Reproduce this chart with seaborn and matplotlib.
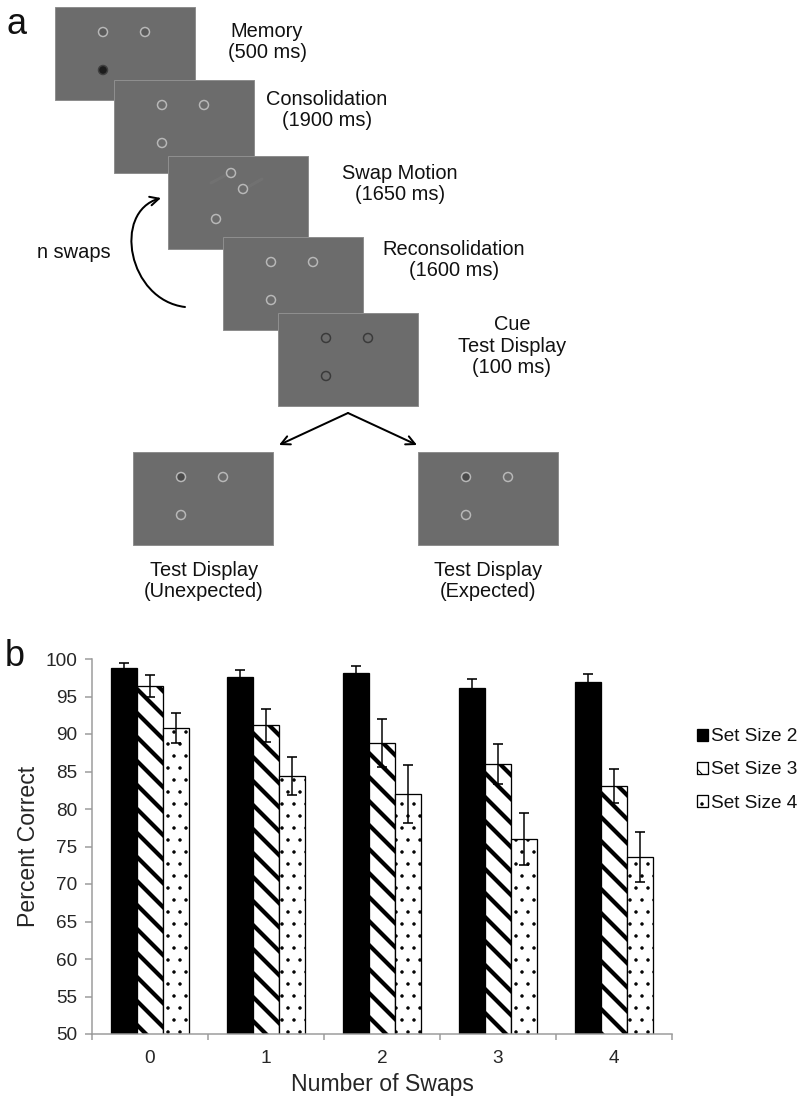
import numpy as np
import pandas as pd
import seaborn as sns
import matplotlib.pyplot as plt
from matplotlib.patches import Rectangle, Circle, FancyArrowPatch
from matplotlib.path import Path

# panel b data
swaps = ['0', '1', '2', '3', '4']
set_sizes = ['Set Size 2', 'Set Size 3', 'Set Size 4']
pct_set2 = [98.8, 97.6, 98.1, 96.1, 96.9]
pct_set3 = [96.4, 91.2, 88.8, 86.0, 83.1]
pct_set4 = [90.8, 84.4, 82.0, 76.0, 73.6]
err_set2 = [0.7, 0.9, 1.0, 1.2, 1.1]
err_set3 = [1.5, 2.2, 3.2, 2.7, 2.3]
err_set4 = [2.0, 2.6, 3.9, 3.5, 3.3]

sns.set_style('ticks')
plt.rcParams['font.family'] = ['Liberation Sans', 'DejaVu Sans']
plt.rcParams['text.color'] = '#111111'
plt.rcParams['hatch.linewidth'] = 1.0

# dpi 72 -> 1 pt == 1 px
fig = plt.figure(figsize=(811 / 72, 1104 / 72), dpi=72)

# ---------------- panel a (schematic) ----------------
ax_a = fig.add_axes([0, 0, 1, 1])
ax_a.set_xlim(0, 811)
ax_a.set_ylim(1104, 0)
ax_a.axis('off')

scr_w, scr_h = 140, 93
scr_gray = '#6c6c6c'
light = '#b8b8b8'
std_pos = [(48, 25), (90, 25), (48, 63)]


def screen(x, y, z):
    ax_a.add_patch(Rectangle((x, y), scr_w, scr_h, facecolor=scr_gray,
                             edgecolor='#8e8e8e', lw=1, zorder=z))


def ring(x, y, z, edge=light, fill=scr_gray):
    ax_a.add_patch(Circle((x, y), 4.5, facecolor=fill, edgecolor=edge,
                          lw=1.5, zorder=z + 0.5))


# memory
screen(55, 7, 1)
ring(55 + 48, 7 + 25, 1, fill='#5a5a5a')
ring(55 + 90, 7 + 25, 1, fill='#5a5a5a')
ring(55 + 48, 7 + 63, 1, edge='#404040', fill='#1c1c1c')
# consolidation
screen(114, 80, 2)
for dx, dy in std_pos:
    ring(114 + dx, 80 + dy, 2)
# swap motion (faint motion trails)
screen(168, 156, 3)
ax_a.plot([211, 226], [183, 175], color='#7a7a7a', lw=3, alpha=0.4, zorder=3.2)
ax_a.plot([248, 262], [187, 179], color='#7a7a7a', lw=3, alpha=0.4, zorder=3.2)
for dx, dy in [(63, 17), (75, 33), (48, 63)]:
    ring(168 + dx, 156 + dy, 3)
# reconsolidation
screen(223, 237, 4)
for dx, dy in std_pos:
    ring(223 + dx, 237 + dy, 4)
# cue
screen(278, 313, 5)
for dx, dy in std_pos:
    ring(278 + dx, 313 + dy, 5, edge='#3a3a3a')
# two test displays
for sx in (133, 418):
    screen(sx, 452, 6)
    ring(sx + 48, 452 + 25, 6, fill='#4a4a4a')
    ring(sx + 90, 452 + 25, 6)
    ring(sx + 48, 452 + 63, 6)

txt = dict(fontsize=20, ha='center', va='center', linespacing=1.15, zorder=10)
ax_a.text(267, 42, 'Memory\n(500 ms)', **txt)
ax_a.text(327, 110, 'Consolidation\n(1900 ms)', **txt)
ax_a.text(400, 184, 'Swap Motion\n(1650 ms)', **txt)
ax_a.text(454, 260, 'Reconsolidation\n(1600 ms)', **txt)
ax_a.text(512, 346, 'Cue\nTest Display\n(100 ms)', **txt)
ax_a.text(204, 581, 'Test Display\n(Unexpected)', **txt)
ax_a.text(488, 581, 'Test Display\n(Expected)', **txt)
ax_a.text(74, 252, 'n swaps', **txt)

# curved "n swaps" arrow
loop = Path([(185, 307), (128, 300), (112, 212), (161, 198)],
            [Path.MOVETO, Path.CURVE4, Path.CURVE4, Path.CURVE4])
ax_a.add_patch(FancyArrowPatch(path=loop, arrowstyle='->', mutation_scale=22,
                               lw=2, color='black', zorder=10))
for end in [(279, 445), (417, 445)]:
    ax_a.add_patch(FancyArrowPatch((348, 413), end, arrowstyle='->',
                                   mutation_scale=22, lw=2, color='black',
                                   shrinkA=0, shrinkB=0, zorder=10))

ax_a.text(17, 24, 'a', fontsize=36, ha='center', va='center')
ax_a.text(15, 657, 'b', fontsize=36, ha='center', va='center')

# ---------------- panel b (bars) ----------------
ax_b = fig.add_axes([92 / 811, 70 / 1104, 580 / 811, 375 / 1104])

df = pd.DataFrame({
    'swaps': swaps * 3,
    'set': np.repeat(set_sizes, len(swaps)),
    'pct': pct_set2 + pct_set3 + pct_set4,
})
sns.barplot(data=df, x='swaps', y='pct', hue='set',
            palette=['black', 'white', 'white'], saturation=1, width=0.67,
            edgecolor='black', linewidth=1.3, errorbar=None, legend=False, ax=ax_b)

bar_conts = list(ax_b.containers)
for cont, h, hlw in zip(bar_conts, ['', '\\', '.'], [1.0, 4.2, 1.0]):
    for p in cont:
        p.set_hatch(h)
        if hasattr(p, 'set_hatch_linewidth'):
            p.set_hatch_linewidth(hlw)

for cont, vals, errs in zip(bar_conts, [pct_set2, pct_set3, pct_set4],
                            [err_set2, err_set3, err_set4]):
    xs = [p.get_x() + p.get_width() / 2 for p in cont]
    ax_b.errorbar(xs, vals, yerr=errs, fmt='none', ecolor='black',
                  elinewidth=1.5, capsize=5, capthick=1.6, zorder=5)

ax_b.set_ylim(50, 100)
ax_b.set_yticks(range(50, 101, 5))
ax_b.set_xlim(-0.5, 4.5)
ax_b.set_xticks(np.arange(-0.5, 5, 1), minor=True)
ax_b.tick_params(axis='y', length=7, width=1.5, color='#9a9a9a', labelsize=19, pad=8)
ax_b.tick_params(axis='x', which='major', length=0, labelsize=19, pad=16)
ax_b.tick_params(axis='x', which='minor', length=6, width=1.5, color='#9a9a9a')
sns.despine(ax=ax_b)
for s in ['left', 'bottom']:
    ax_b.spines[s].set_color('#9a9a9a')
    ax_b.spines[s].set_linewidth(1.5)

ax_b.set_ylabel('Percent Correct', fontsize=23)
ax_b.set_xlabel('Number of Swaps', fontsize=23)
ax_b.yaxis.set_label_coords(-0.09, 0.5)
ax_b.xaxis.set_label_coords(0.5, -0.105)

fig.legend(bar_conts, set_sizes, loc='center left',
           bbox_to_anchor=(697 / 811, 1 - 770 / 1104), frameon=False,
           fontsize=19, handlelength=0.6, handleheight=0.6,
           handletextpad=0.15, labelspacing=0.85, borderpad=0, borderaxespad=0)

fig.savefig('out.png', dpi=72)
